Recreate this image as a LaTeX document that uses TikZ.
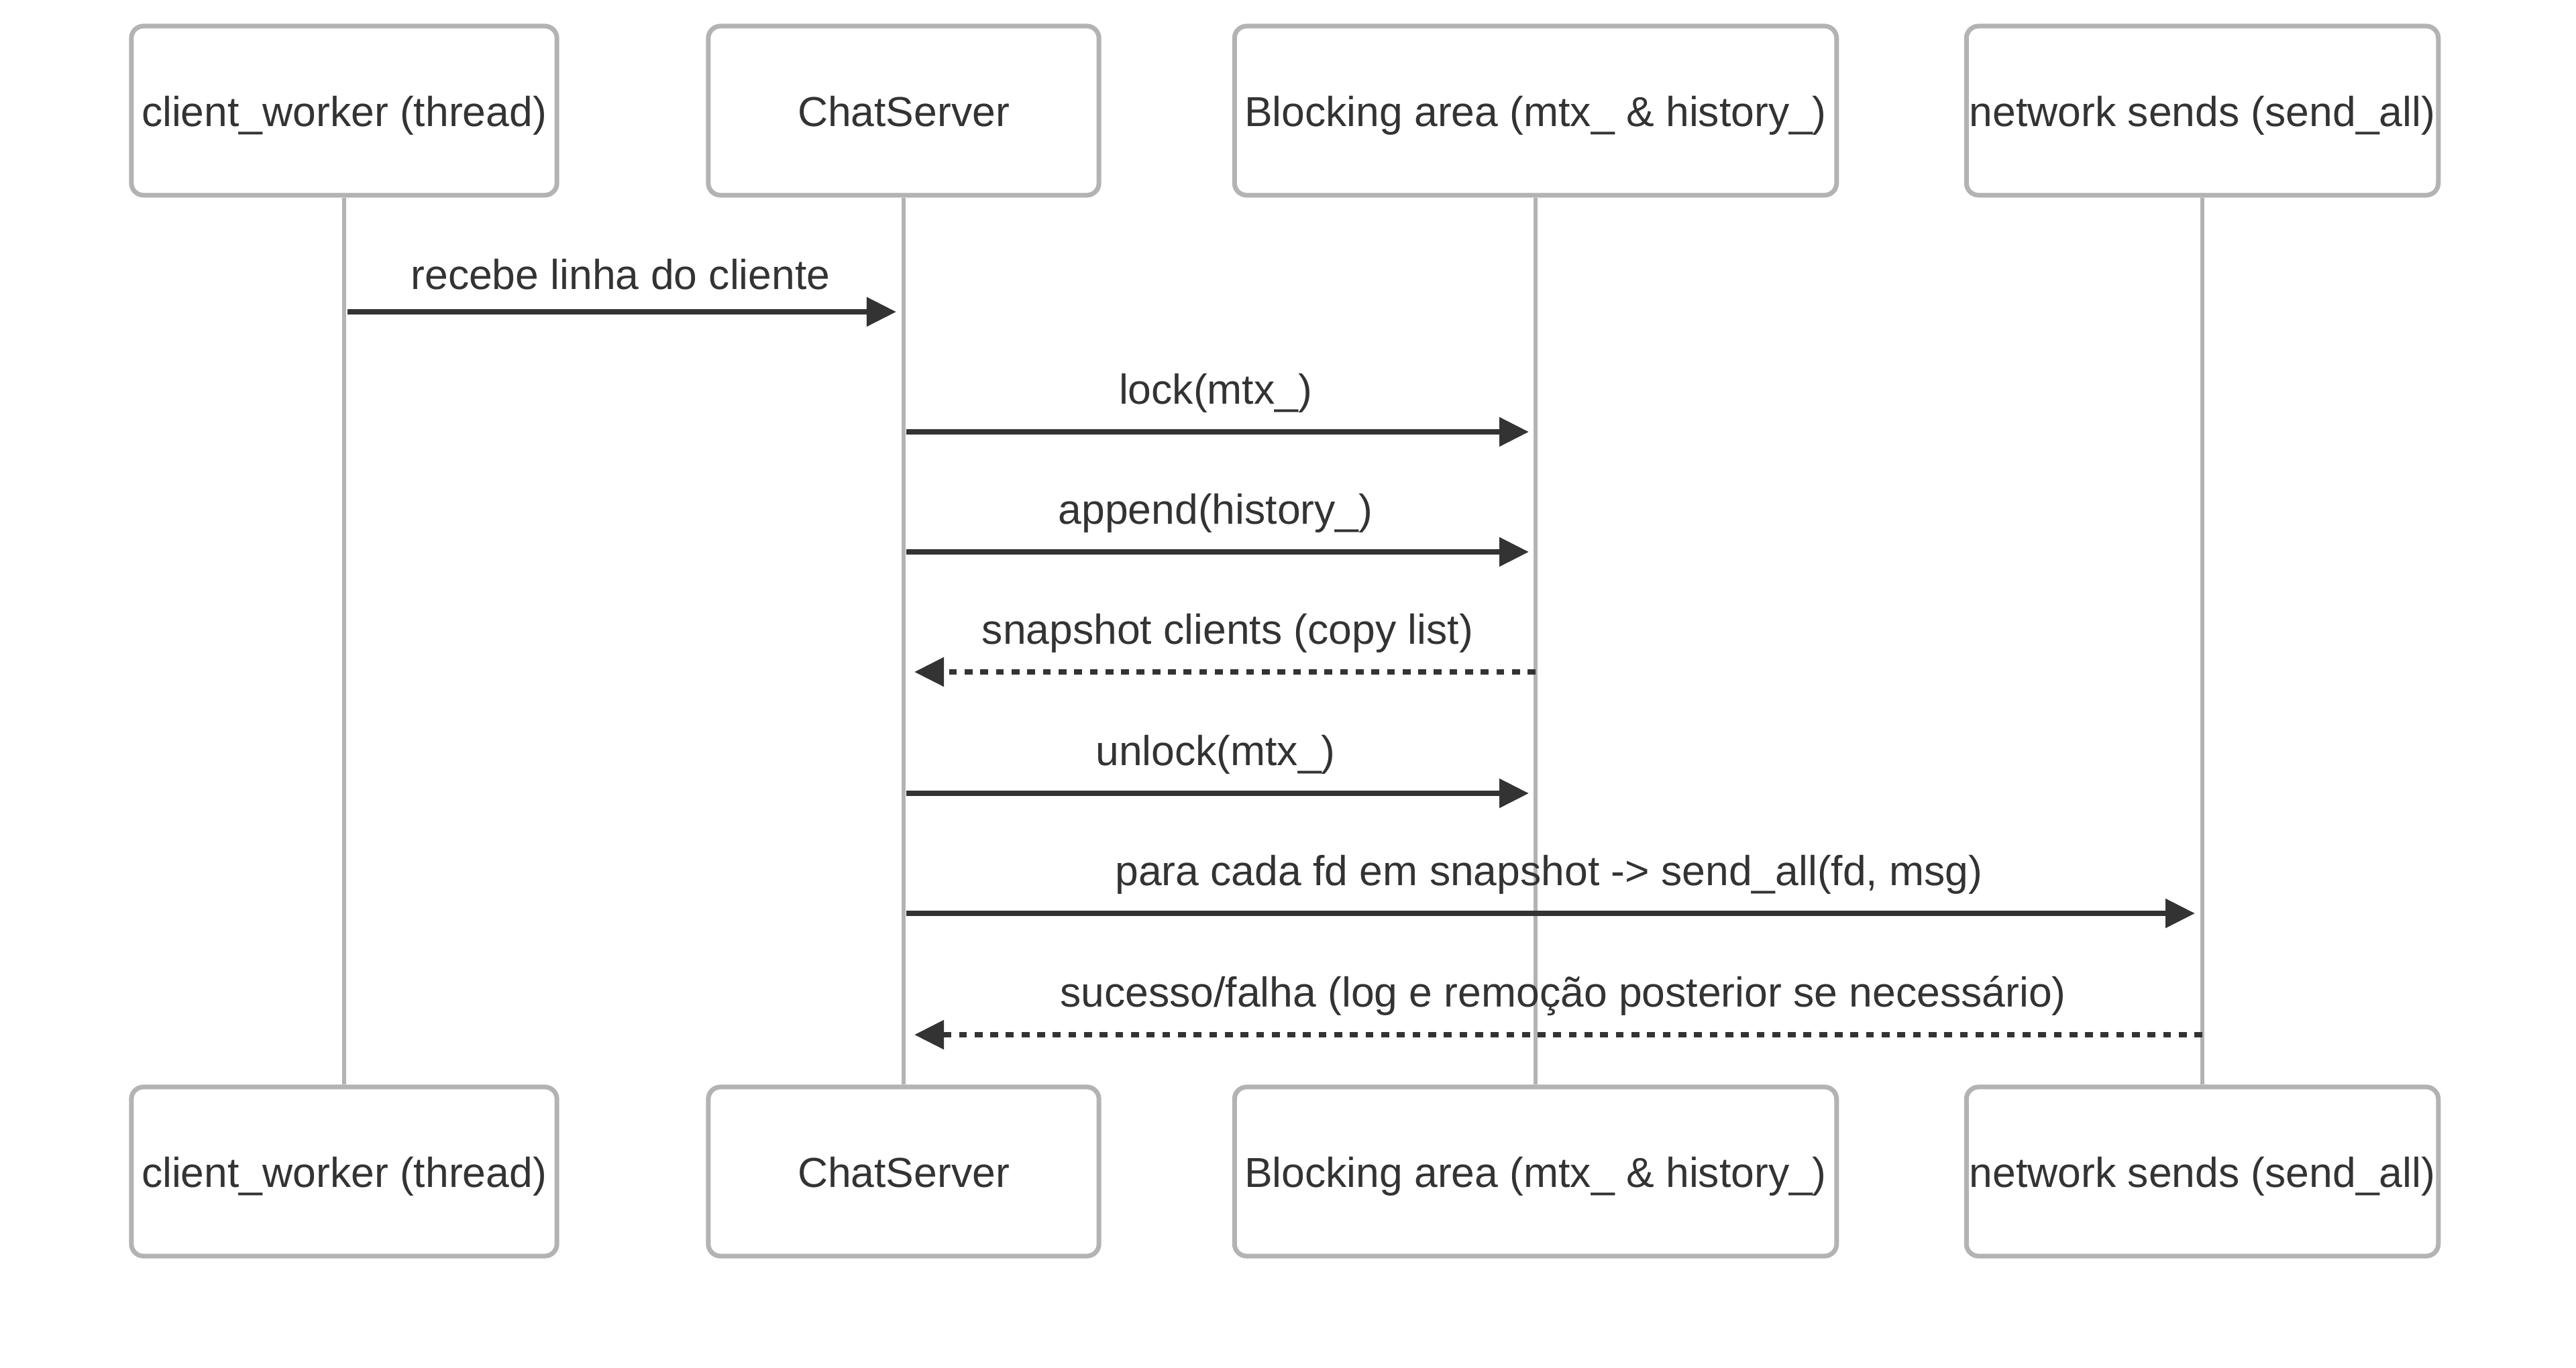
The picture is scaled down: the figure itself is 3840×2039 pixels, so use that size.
\documentclass[tikz,border=0pt]{standalone}
\usepackage{fontspec}
\setmainfont{Liberation Sans}
\usetikzlibrary{arrows.meta}
\definecolor{boxgray}{HTML}{B3B3B3}
\definecolor{ink}{HTML}{333333}
\begin{document}
\begin{tikzpicture}[x=0.01cm,y=-0.01cm,
  every node/.style={font=\fontsize{17.76pt}{21pt}\selectfont, text=ink},
  actor/.style={draw=boxgray, fill=white, line width=0.07cm, rounded corners=0.18cm,
    minimum height=2.52cm, inner sep=0pt, text height=0.593cm, text depth=0.131cm},
  life/.style={draw=boxgray, line width=0.065cm},
  msg/.style={draw=ink, line width=0.08cm, -{Triangle[length=0.44cm,width=0.42cm]}},
  reply/.style={msg, dash pattern=on 0.117cm off 0.116cm},
  lbl/.style={anchor=base, inner sep=0pt}]
\useasboundingbox (0,0) rectangle (3840,2039);

% actors (top)
\node[actor, minimum width=6.34cm] (t1) at (513,165) {client\_worker (thread)};
\node[actor, minimum width=5.82cm] (t2) at (1347,165) {ChatServer};
\node[actor, minimum width=8.97cm] (t3) at (2289,165) {Blocking area (mtx\_ \& history\_)};
\node[actor, minimum width=7.03cm] (t4) at (3283,165) {network sends (send\_all)};
% actors (bottom)
\node[actor, minimum width=6.34cm] (b1) at (513,1747) {client\_worker (thread)};
\node[actor, minimum width=5.82cm] (b2) at (1347,1747) {ChatServer};
\node[actor, minimum width=8.97cm] (b3) at (2289,1747) {Blocking area (mtx\_ \& history\_)};
\node[actor, minimum width=7.03cm] (b4) at (3283,1747) {network sends (send\_all)};

% lifelines
\draw[life] (t1.south) -- (b1.north);
\draw[life] (t2.south) -- (b2.north);
\draw[life] (t3.south) -- (b3.north);
\draw[life] (t4.south) -- (b4.north);

% message end points
\coordinate (m1s) at (518,465);   \coordinate (m1e) at (1336,465);
\coordinate (m2s) at (1351,644);  \coordinate (m2e) at (2279,644);
\coordinate (m3s) at (1351,823);  \coordinate (m3e) at (2279,823);
\coordinate (m4s) at (2289,1002); \coordinate (m4e) at (1363,1002);
\coordinate (m5s) at (1351,1183); \coordinate (m5e) at (2279,1183);
\coordinate (m6s) at (1351,1362); \coordinate (m6e) at (3272,1362);
\coordinate (m7s) at (3283,1543); \coordinate (m7e) at (1363,1543);

\draw[msg] (m1s) -- (m1e);
\draw[msg] (m2s) -- (m2e);
\draw[msg] (m3s) -- (m3e);
\draw[reply] (m4s) -- (m4e);
\draw[msg] (m5s) -- (m5e);
\draw[msg] (m6s) -- (m6e);
\draw[reply] (m7s) -- (m7e);

% labels
\node[lbl] (l1) at (925,431) {recebe linha do cliente};
\node[lbl] (l2) at (1812,602) {lock(mtx\_)};
\node[lbl] (l3) at (1812,781) {append(history\_)};
\node[lbl] (l4) at (1830,960) {snapshot clients (copy list)};
\node[lbl] (l5) at (1812,1141) {unlock(mtx\_)};
\node[lbl] (l6) at (2309,1320) {para cada fd em snapshot -> send\_all(fd, msg)};
\node[lbl] (l7) at (2330,1501) {sucesso/falha (log e remoção posterior se necessário)};
\end{tikzpicture}
\end{document}
